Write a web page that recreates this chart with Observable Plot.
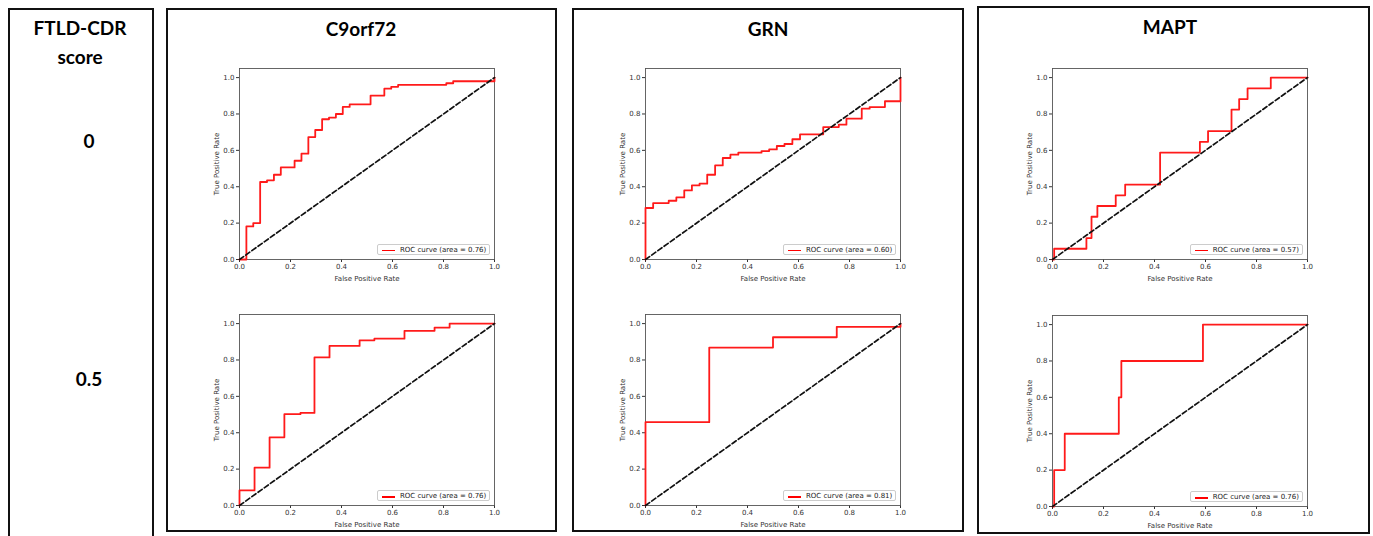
<!DOCTYPE html>
<html><head><meta charset="utf-8">
<script src="https://cdn.jsdelivr.net/npm/d3@7"></script>
<script src="https://cdn.jsdelivr.net/npm/@observablehq/plot@0.6"></script>
<style>
body{margin:0;background:#fff;}
#root{position:relative;width:1373px;height:536px;overflow:hidden;background:#fff;}
.box{position:absolute;border:2.5px solid #111;box-sizing:border-box;}
.hdr{position:absolute;font-family:Lato,"Open Sans",sans-serif;font-weight:700;font-size:19px;color:#000;transform:translate(-50%,-50%);white-space:nowrap;line-height:1;}
.plot{position:absolute;}
.leg{position:absolute;box-sizing:border-box;border:0.8px solid #ccc;border-radius:2px;background:#fff;font-family:"DejaVu Sans",sans-serif;font-size:7px;color:#222;height:11px;width:113px;}
.leg .ln{position:absolute;left:4px;top:4.5px;width:13px;height:1.8px;background:red;}
.leg .tx{position:absolute;left:22px;top:1px;white-space:nowrap;line-height:8px;}
</style>
</head><body><div id="root"></div>
<script>
const genes = ["C9orf72", "GRN", "MAPT"];
const scores = ["0", "0.5"];
const areas = [["0.76", "0.60", "0.57"], ["0.76", "0.81", "0.76"]];
const ticks = [0, 0.2, 0.4, 0.6, 0.8, 1.0];
const diagX = [0, 1];
const diagY = [0, 1];

// Score 0
const c9_0_fpr = [0, 0.027, 0.054, 0.081, 0.108, 0.135, 0.162, 0.216, 0.243, 0.270, 0.297, 0.324, 0.351, 0.378, 0.405, 0.432, 0.514, 0.568, 0.595, 0.622, 0.811, 0.838, 1.0];
const c9_0_tpr = [0, 0.182, 0.200, 0.426, 0.435, 0.466, 0.506, 0.543, 0.582, 0.673, 0.712, 0.771, 0.780, 0.800, 0.839, 0.853, 0.901, 0.939, 0.949, 0.960, 0.969, 0.980, 1.0];
const grn_0_fpr = [0, 0, 0.030, 0.091, 0.121, 0.152, 0.182, 0.212, 0.242, 0.273, 0.303, 0.333, 0.364, 0.455, 0.485, 0.515, 0.545, 0.576, 0.606, 0.697, 0.758, 0.788, 0.848, 0.879, 0.939, 1.0];
const grn_0_tpr = [0, 0.283, 0.310, 0.323, 0.341, 0.380, 0.407, 0.417, 0.466, 0.517, 0.558, 0.576, 0.587, 0.596, 0.605, 0.624, 0.635, 0.661, 0.688, 0.728, 0.741, 0.774, 0.829, 0.838, 0.870, 1.0];
const mapt_0_fpr = [0, 0.0065, 0.133, 0.153, 0.176, 0.248, 0.285, 0.422, 0.578, 0.610, 0.702, 0.732, 0.765, 0.856, 1.0];
const mapt_0_tpr = [0, 0.059, 0.118, 0.235, 0.294, 0.353, 0.412, 0.588, 0.647, 0.706, 0.824, 0.882, 0.941, 1.0, 1.0];
// Score 0.5
const c9_05_fpr = [0, 0, 0.059, 0.118, 0.176, 0.239, 0.294, 0.353, 0.471, 0.529, 0.647, 0.765, 0.824, 1.0];
const c9_05_tpr = [0, 0.083, 0.208, 0.375, 0.502, 0.509, 0.814, 0.877, 0.908, 0.917, 0.960, 0.978, 1.0, 1.0];
const grn_05_fpr = [0, 0, 0.25, 0.5, 0.75, 1.0];
const grn_05_tpr = [0, 0.458, 0.868, 0.925, 0.982, 1.0];
const mapt_05_fpr = [0, 0.0065, 0.048, 0.26, 0.27, 0.59, 1.0];
const mapt_05_tpr = [0, 0.2, 0.4, 0.6, 0.8, 1.0, 1.0];

const curves = [
  [[c9_0_fpr, c9_0_tpr], [grn_0_fpr, grn_0_tpr], [mapt_0_fpr, mapt_0_tpr]],
  [[c9_05_fpr, c9_05_tpr], [grn_05_fpr, grn_05_tpr], [mapt_05_fpr, mapt_05_tpr]]
];

const root = document.getElementById("root");
function el(cls, css, text) {
  const d = document.createElement("div");
  d.className = cls;
  Object.assign(d.style, css);
  if (text != null) d.textContent = text;
  root.appendChild(d);
  return d;
}

// boxes
el("box", {left: "8px", top: "8px", width: "146px", height: "540px"});
el("box", {left: "166px", top: "8px", width: "391px", height: "524px"});
el("box", {left: "572px", top: "8px", width: "392px", height: "524px"});
el("box", {left: "977px", top: "6px", width: "393px", height: "528px"});

// header texts
el("hdr", {left: "80px", top: "27px"}, "FTLD-CDR");
el("hdr", {left: "80px", top: "56px"}, "score");
el("hdr", {left: "89px", top: "140px"}, scores[0]);
el("hdr", {left: "89px", top: "378px"}, scores[1]);
const hdrPos = [[361, 28], [768, 28], [1170, 26]];
genes.forEach((g, i) => el("hdr", {left: hdrPos[i][0] + "px", top: hdrPos[i][1] + "px"}, g));

// plot geometry (pixel position of x=0 and y=0 for each panel)
const x0s = [239, 645, 1051.7];
const y0s = [[259, 259, 259], [505.3, 505.3, 506.3]];
const PW = 255, PH = 191;
const ML = 40, MR = 6, MT = 4, MB = 26;

function rocPlot(fpr, tpr) {
  const pts = fpr.map((f, i) => ({fpr: f, tpr: tpr[i]}));
  const diag = diagX.map((x, i) => ({x, y: diagY[i]}));
  return Plot.plot({
    width: ML + PW + MR,
    height: MT + PH + MB,
    marginLeft: ML, marginRight: MR, marginTop: MT, marginBottom: MB,
    style: {fontFamily: "DejaVu Sans, sans-serif", fontSize: "7px", color: "#333", background: "transparent", overflow: "visible"},
    x: {domain: [0, 1], ticks, tickFormat: ".1f", label: "False Positive Rate", labelAnchor: "center", labelOffset: 21, labelArrow: false, tickSize: 3, tickPadding: 2},
    y: {domain: [0, 1.05], ticks, tickFormat: ".1f", label: "True Positive Rate", labelAnchor: "center", labelOffset: 25, labelArrow: false, tickSize: 3, tickPadding: 2},
    marks: [
      Plot.frame({stroke: "#555", strokeWidth: 0.9}),
      Plot.line(pts, {x: "fpr", y: "tpr", stroke: "#ff1a1a", strokeWidth: 1.8, curve: "step-after"}),
      Plot.line(diag, {x: "x", y: "y", stroke: "#111", strokeWidth: 1.7, strokeDasharray: "5,2.6"})
    ]
  });
}

for (let r = 0; r < 2; r++) {
  for (let c = 0; c < 3; c++) {
    const [fpr, tpr] = curves[r][c];
    const p = rocPlot(fpr, tpr);
    const w = document.createElement("div");
    w.className = "plot";
    w.style.left = (x0s[c] - ML) + "px";
    w.style.top = (y0s[r][c] - PH - MT) + "px";
    w.appendChild(p);
    root.appendChild(w);
    const lg = el("leg", {left: (x0s[c] + PW - 4 - 113) + "px", top: (y0s[r][c] - 4 - 11) + "px"});
    const ln = document.createElement("div"); ln.className = "ln"; lg.appendChild(ln);
    const tx = document.createElement("div"); tx.className = "tx"; tx.textContent = `ROC curve (area = ${areas[r][c]})`; lg.appendChild(tx);
  }
}
</script>
</body></html>
